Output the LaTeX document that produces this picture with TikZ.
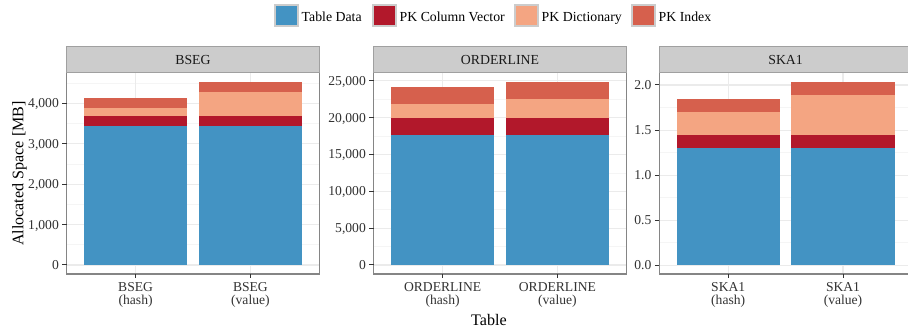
\documentclass[tikz,border=0pt]{standalone}
\usepackage{fontspec}
\setmainfont{Liberation Serif}
\definecolor{cTD}{HTML}{4393C3}
\definecolor{cCV}{HTML}{B2182B}
\definecolor{cDI}{HTML}{F4A582}
\definecolor{cIX}{HTML}{D6604D}
\definecolor{gmaj}{HTML}{EBEBEB}
\definecolor{gmin}{HTML}{F5F5F5}
\definecolor{pborder}{HTML}{858585}
\definecolor{sfill}{HTML}{CCCCCC}
\definecolor{sborder}{HTML}{A0A0A0}
\definecolor{ttext}{HTML}{333333}
\newcommand{\mybar}[5]{%
  \fill[cTD] (#1-51.7,265) rectangle (#1+51.7,#2);
  \fill[cCV] (#1-51.7,#2) rectangle (#1+51.7,#3);
  \fill[cDI] (#1-51.7,#3) rectangle (#1+51.7,#4);
  \fill[cIX] (#1-51.7,#4) rectangle (#1+51.7,#5);}
\begin{document}
\begin{tikzpicture}[x=1pt,y=-1pt,
  majorgrid/.style={draw=gmaj, line width=1.1pt},
  minorgrid/.style={draw=gmin, line width=0.6pt},
  pframe/.style={draw=pborder, line width=1.3pt},
  stripbox/.style={fill=sfill, draw=sborder, line width=1.5pt},
  tickline/.style={draw=ttext, line width=1pt},
  ticklab/.style={font=\fontsize{13.6}{14}\selectfont, text=ttext, inner sep=0pt},
  striplab/.style={font=\fontsize{13.8}{14}\selectfont, text=black!90, inner sep=0pt},
  legkey/.style={draw=sfill, line width=1.5pt},
  leglab/.style={font=\fontsize{13.8}{14}\selectfont, text=black, inner sep=0pt, anchor=base west},
  axtitle/.style={font=\fontsize{16.1}{17}\selectfont, text=black, inner sep=0pt, anchor=base}]
\useasboundingbox (0,0) rectangle (908,331);
\fill[white] (0,0) rectangle (908,331);

% ---------- legend ----------
\foreach \kx/\col/\lab/\nm in {275/cTD/Table Data/lTD, 373/cCV/PK Column Vector/lCV, 515/cDI/PK Dictionary/lDI, 632/cIX/PK Index/lIX} {
  \draw[legkey, fill=\col] (\kx,5) rectangle (\kx+23,26);
  \node[leglab] (\nm) at (\kx+26.5,21.5) {\lab};
}

% ---------- panel 1: BSEG ----------
\fill[white] (66.7,72.3) rectangle (319.3,274);
\foreach \y in {244.8,204.4,163.9,123.5,83.1} \draw[minorgrid] (66.7,\y) -- (319.3,\y);
\foreach \y in {265,224.6,184.1,143.7,103.3} \draw[majorgrid] (66.7,\y) -- (319.3,\y);
\foreach \x in {135.6,250.4} \draw[majorgrid] (\x,72.3) -- (\x,274);
\mybar{135.6}{126}{116}{108}{98}
\mybar{250.4}{126}{116}{92}{82}
\draw[pframe] (66.7,72.3) rectangle (319.3,274);
\draw[stripbox] (66.7,46.7) rectangle (319.3,72.3);
\node[striplab, anchor=base] (s1) at (193,64.3) {BSEG};
\foreach \y/\t in {265/0,224.6/{1,000},184.1/{2,000},143.7/{3,000},103.3/{4,000}} {
  \draw[tickline] (62.2,\y) -- (66.7,\y);
  \node[ticklab, anchor=base east] at (59,\y+4.6) {\t};
}
\foreach \x in {135.6,250.4} \draw[tickline] (\x,274) -- (\x,278.5);
\node[ticklab, anchor=base] (x1a) at (135.6,291.8) {BSEG};
\node[ticklab, anchor=base] (x1b) at (135.6,305) {(hash)};
\node[ticklab, anchor=base] (x2a) at (250.4,291.8) {BSEG};
\node[ticklab, anchor=base] (x2b) at (250.4,305) {(value)};

% ---------- panel 2: ORDERLINE ----------
\fill[white] (373.7,72.3) rectangle (626.3,274);
\foreach \y in {246.6,209.7,172.9,136,99.2} \draw[minorgrid] (373.7,\y) -- (626.3,\y);
\foreach \y in {265,228.1,191.3,154.4,117.6,80.7} \draw[majorgrid] (373.7,\y) -- (626.3,\y);
\foreach \x in {442.6,557.4} \draw[majorgrid] (\x,72.3) -- (\x,274);
\mybar{442.6}{135}{118}{104}{87}
\mybar{557.4}{135}{118}{99}{82}
\draw[pframe] (373.7,72.3) rectangle (626.3,274);
\draw[stripbox] (373.7,46.7) rectangle (626.3,72.3);
\node[striplab, anchor=base] (s2) at (500,64.3) {ORDERLINE};
\foreach \y/\t in {265/0,228.1/{5,000},191.3/{10,000},154.4/{15,000},117.6/{20,000},80.7/{25,000}} {
  \draw[tickline] (369.2,\y) -- (373.7,\y);
  \node[ticklab, anchor=base east] at (366,\y+4.6) {\t};
}
\foreach \x in {442.6,557.4} \draw[tickline] (\x,274) -- (\x,278.5);
\node[ticklab, anchor=base] (x3a) at (442.6,291.8) {ORDERLINE};
\node[ticklab, anchor=base] (x3b) at (442.6,305) {(hash)};
\node[ticklab, anchor=base] (x4a) at (557.4,291.8) {ORDERLINE};
\node[ticklab, anchor=base] (x4b) at (557.4,305) {(value)};

% ---------- panel 3: SKA1 ----------
\fill[white] (659.3,72.3) rectangle (912,274);
\foreach \y in {242.8,197.7,152.6,107.6} \draw[minorgrid] (659.3,\y) -- (912,\y);
\foreach \y in {265.3,220.2,175.2,130.1,85} \draw[majorgrid] (659.3,\y) -- (912,\y);
\foreach \x in {728.2,843} \draw[majorgrid] (\x,72.3) -- (\x,274);
\mybar{728.2}{148}{135}{112}{99}
\mybar{843}{148}{135}{95}{82}
\draw[pframe] (659.3,72.3) rectangle (912,274);
\draw[stripbox] (659.3,46.7) rectangle (912,72.3);
\node[striplab, anchor=base] (s3) at (785.6,64.3) {SKA1};
\foreach \y/\t in {265.3/0.0,220.2/0.5,175.2/1.0,130.1/1.5,85/2.0} {
  \draw[tickline] (654.8,\y) -- (659.3,\y);
  \node[ticklab, anchor=base east] at (651.6,\y+4.6) {\t};
}
\foreach \x in {728.2,843} \draw[tickline] (\x,274) -- (\x,278.5);
\node[ticklab, anchor=base] (x5a) at (728.2,291.8) {SKA1};
\node[ticklab, anchor=base] (x5b) at (728.2,305) {(hash)};
\node[ticklab, anchor=base] (x6a) at (843,291.8) {SKA1};
\node[ticklab, anchor=base] (x6b) at (843,305) {(value)};

% ---------- axis titles ----------
\node[axtitle] (xt) at (489,325) {Table};
\node[axtitle, rotate=90] (yt) at (23.3,173.5) {Allocated Space [MB]};
\end{tikzpicture}
\end{document}
